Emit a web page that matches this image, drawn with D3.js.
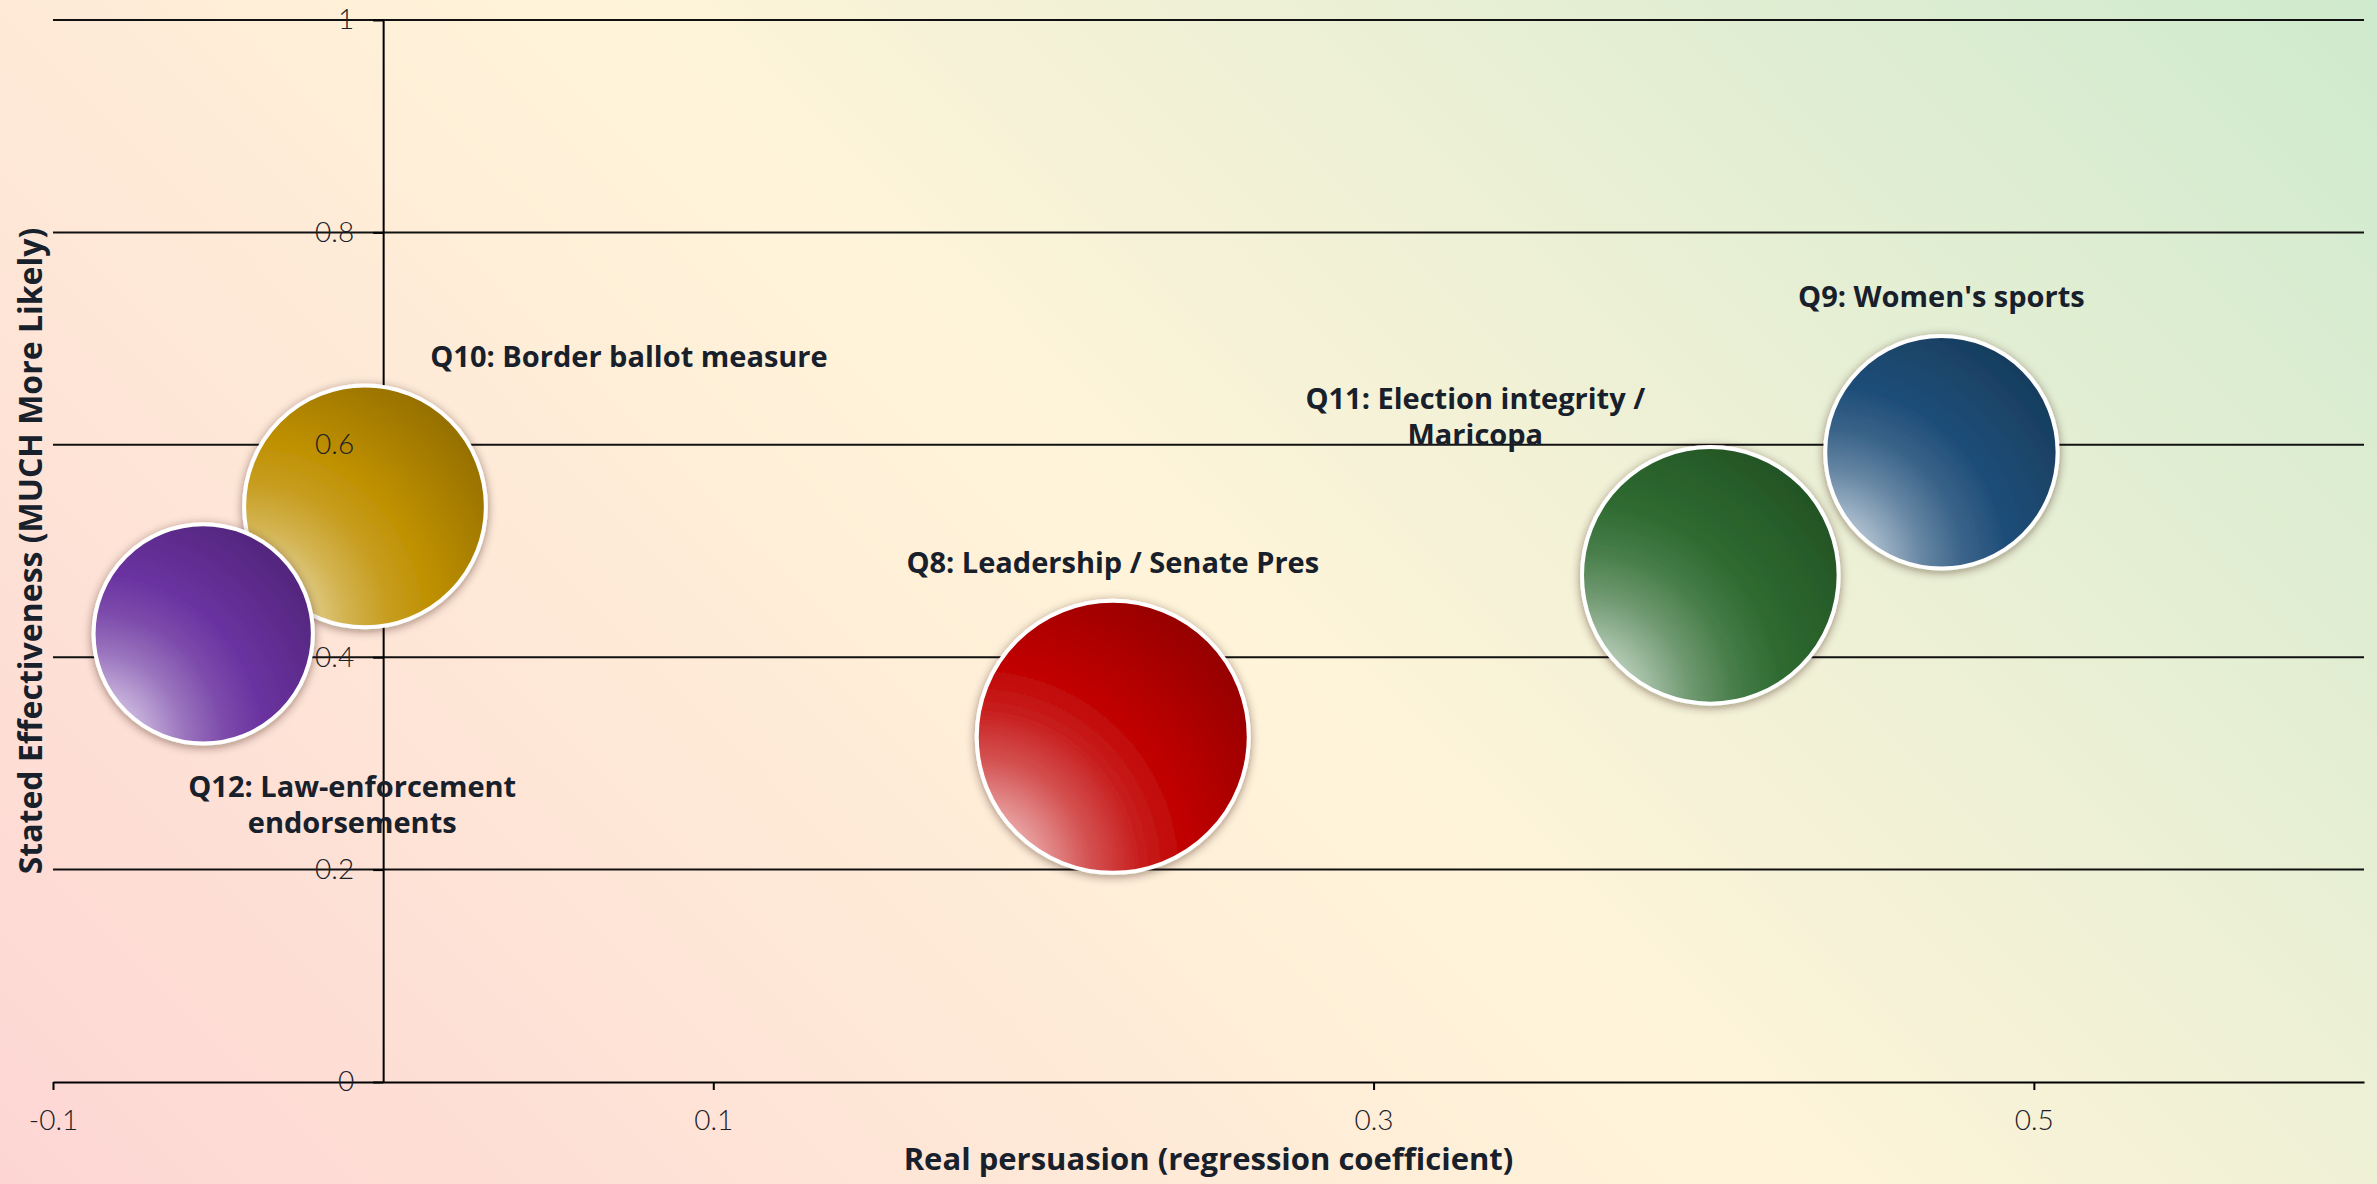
<!DOCTYPE html>
<html>
<head>
<meta charset="utf-8">
<script src="https://cdn.jsdelivr.net/npm/d3@7"></script>
<style>
  html, body { margin: 0; padding: 0; }
  body { width: 2377px; height: 1184px; overflow: hidden; }
  svg { display: block; font-family: "Open Sans", Lato, sans-serif; }
  .tick text { font-family: Lato, sans-serif; font-weight: 300; font-size: 28px; fill: #1c2028; }
  .axis path, .axis line { stroke: #000; stroke-width: 2; }
  .grid line { stroke: #111; stroke-width: 2; }
  .axis-title { font-weight: 700; font-size: 31px; fill: #17202b; }
  .axis-title.y-title { font-size: 32px; }
  .bubble-label { font-weight: 700; font-size: 29px; fill: #17202b; }
</style>
</head>
<body>
<svg id="chart"></svg>
<script>
// chart values
const questions = ["Q8", "Q9", "Q10", "Q11", "Q12"]
const labelLines = [
    ["Q8: Leadership / Senate Pres"],
    ["Q9: Women's sports"],
    ["Q10: Border ballot measure"],
    ["Q11: Election integrity /", "Maricopa"],
    ["Q12: Law-enforcement", "endorsements"]
]
const persuasion = [0.221, 0.472, -0.0055, 0.402, -0.0545]   // x
const stated = [0.325, 0.593, 0.542, 0.477, 0.422]            // y
const bubbleSize = [100, 73, 79, 89, 65]
const colors = ["#C00000", "#1F4E79", "#BF9000", "#2E6B30", "#6A32A0"]
const xTicks = [-0.1, 0.1, 0.3, 0.5]
const yTicks = [0, 0.2, 0.4, 0.6, 0.8, 1]

// label placement relative to bubble centre (px), first baseline
const labelOffsets = [[0, -164], [0, -145], [264, -139], [-235, -166], [149, 163]]

const W = 2377, H = 1184
const margin = {top: 20, right: 13, bottom: 102, left: 53}

const svg = d3.select("#chart").attr("width", W).attr("height", H)
const defs = svg.append("defs")

// page background gradient, pink bottom-left -> cream -> green top-right
let half = (W + H) / 4
let bg = defs.append("linearGradient")
    .attr("id", "bg")
    .attr("gradientUnits", "userSpaceOnUse")
    .attr("x1", W / 2 - half).attr("y1", H / 2 + half)
    .attr("x2", W / 2 + half).attr("y2", H / 2 - half)
bg.append("stop").attr("offset", "0%").attr("stop-color", "#fdd6d4")
bg.append("stop").attr("offset", "50%").attr("stop-color", "#fff4d9")
bg.append("stop").attr("offset", "100%").attr("stop-color", "#cfeace")
svg.append("rect").attr("width", W).attr("height", H).attr("fill", "url(#bg)")

let shadow = defs.append("filter").attr("id", "shadow")
    .attr("x", "-30%").attr("y", "-30%").attr("width", "160%").attr("height", "160%")
shadow.append("feDropShadow")
    .attr("dx", 0).attr("dy", 2).attr("stdDeviation", 5)
    .attr("flood-color", "#2a1d08").attr("flood-opacity", 0.45)

const x = d3.scaleLinear().domain([-0.1, 0.6]).range([margin.left, W - margin.right])
const y = d3.scaleLinear().domain([0, 1]).range([H - margin.bottom, margin.top])
const r = d3.scaleSqrt().domain([0, d3.max(bubbleSize)]).range([0, 136])

// gridlines
svg.append("g").attr("class", "grid")
    .selectAll("line")
    .data(yTicks.filter(d => d > 0))
    .enter()
    .append("line")
    .attr("x1", x.range()[0]).attr("x2", x.range()[1])
    .attr("y1", d => y(d)).attr("y2", d => y(d))

// x axis sits at y = 0
svg.append("g").attr("class", "axis")
    .attr("transform", "translate(0," + y(0) + ")")
    .call(d3.axisBottom(x).tickValues(xTicks).tickSize(8).tickPadding(20)
        .tickSizeOuter(0).tickFormat(d => String(d)))

// y axis sits at x = 0 (labels drawn later, above bubbles)
svg.append("g").attr("class", "axis")
    .attr("transform", "translate(" + x(0) + ",0)")
    .call(d3.axisLeft(y).tickValues(yTicks).tickSize(10).tickSizeOuter(0).tickFormat(""))

let rows = questions.map((q, i) => ({
    q: q, lines: labelLines[i], px: persuasion[i], st: stated[i],
    size: bubbleSize[i], color: colors[i], off: labelOffsets[i], i: i
}))

// bubble gradients: light at bottom-left, dark at top-right
rows.forEach(d => {
    let g = defs.append("radialGradient")
        .attr("id", "grad" + d.i)
        .attr("cx", 0).attr("cy", 1).attr("fx", 0).attr("fy", 1).attr("r", 1.3)
    let light = t => d3.interpolateRgb(d.color, "#ffffff")(t)
    g.append("stop").attr("offset", "0%").attr("stop-color", light(0.92))
    g.append("stop").attr("offset", "18%").attr("stop-color", light(0.6))
    g.append("stop").attr("offset", "32%").attr("stop-color", light(0.32))
    g.append("stop").attr("offset", "46%").attr("stop-color", light(0.12))
    g.append("stop").attr("offset", "60%").attr("stop-color", d.color)
    g.append("stop").attr("offset", "100%").attr("stop-color", d3.color(d.color).darker(0.9))
})

// big bubbles first so smaller ones sit on top
let ordered = rows.slice().sort((a, b) => b.size - a.size)

svg.append("g")
    .selectAll("circle")
    .data(ordered)
    .enter()
    .append("circle")
    .attr("cx", d => x(d.px))
    .attr("cy", d => y(d.st))
    .attr("r", d => r(d.size))
    .attr("fill", d => "url(#grad" + d.i + ")")
    .attr("stroke", "#fff")
    .attr("stroke-width", 4)
    .attr("filter", "url(#shadow)")

// y tick labels over the bubbles
let yLab = svg.append("g").attr("class", "axis")
    .attr("transform", "translate(" + x(0) + ",0)")
    .call(d3.axisLeft(y).tickValues(yTicks).tickSize(0).tickPadding(29).tickFormat(d => String(d)))
yLab.select(".domain").remove()
yLab.selectAll("line").remove()

// bubble labels
let labels = svg.append("g")
    .selectAll("text")
    .data(rows)
    .enter()
    .append("text")
    .attr("class", "bubble-label")
    .attr("text-anchor", "middle")
    .attr("x", d => x(d.px) + d.off[0])
    .attr("y", d => y(d.st) + d.off[1])
labels.selectAll("tspan")
    .data(d => d.lines.map((t, k) => ({t: t, k: k, x: x(d.px) + d.off[0]})))
    .enter()
    .append("tspan")
    .attr("x", d => d.x)
    .attr("dy", d => d.k === 0 ? 0 : 36)
    .text(d => d.t)

// axis titles
svg.append("text").attr("class", "axis-title")
    .attr("text-anchor", "middle")
    .attr("x", (x.range()[0] + x.range()[1]) / 2)
    .attr("y", 1170)
    .text("Real persuasion (regression coefficient)")

svg.append("text").attr("class", "axis-title y-title")
    .attr("text-anchor", "middle")
    .attr("transform", "translate(42," + (y.range()[0] + y.range()[1]) / 2 + ") rotate(-90)")
    .text("Stated Effectiveness (MUCH More Likely)")
</script>
</body>
</html>
